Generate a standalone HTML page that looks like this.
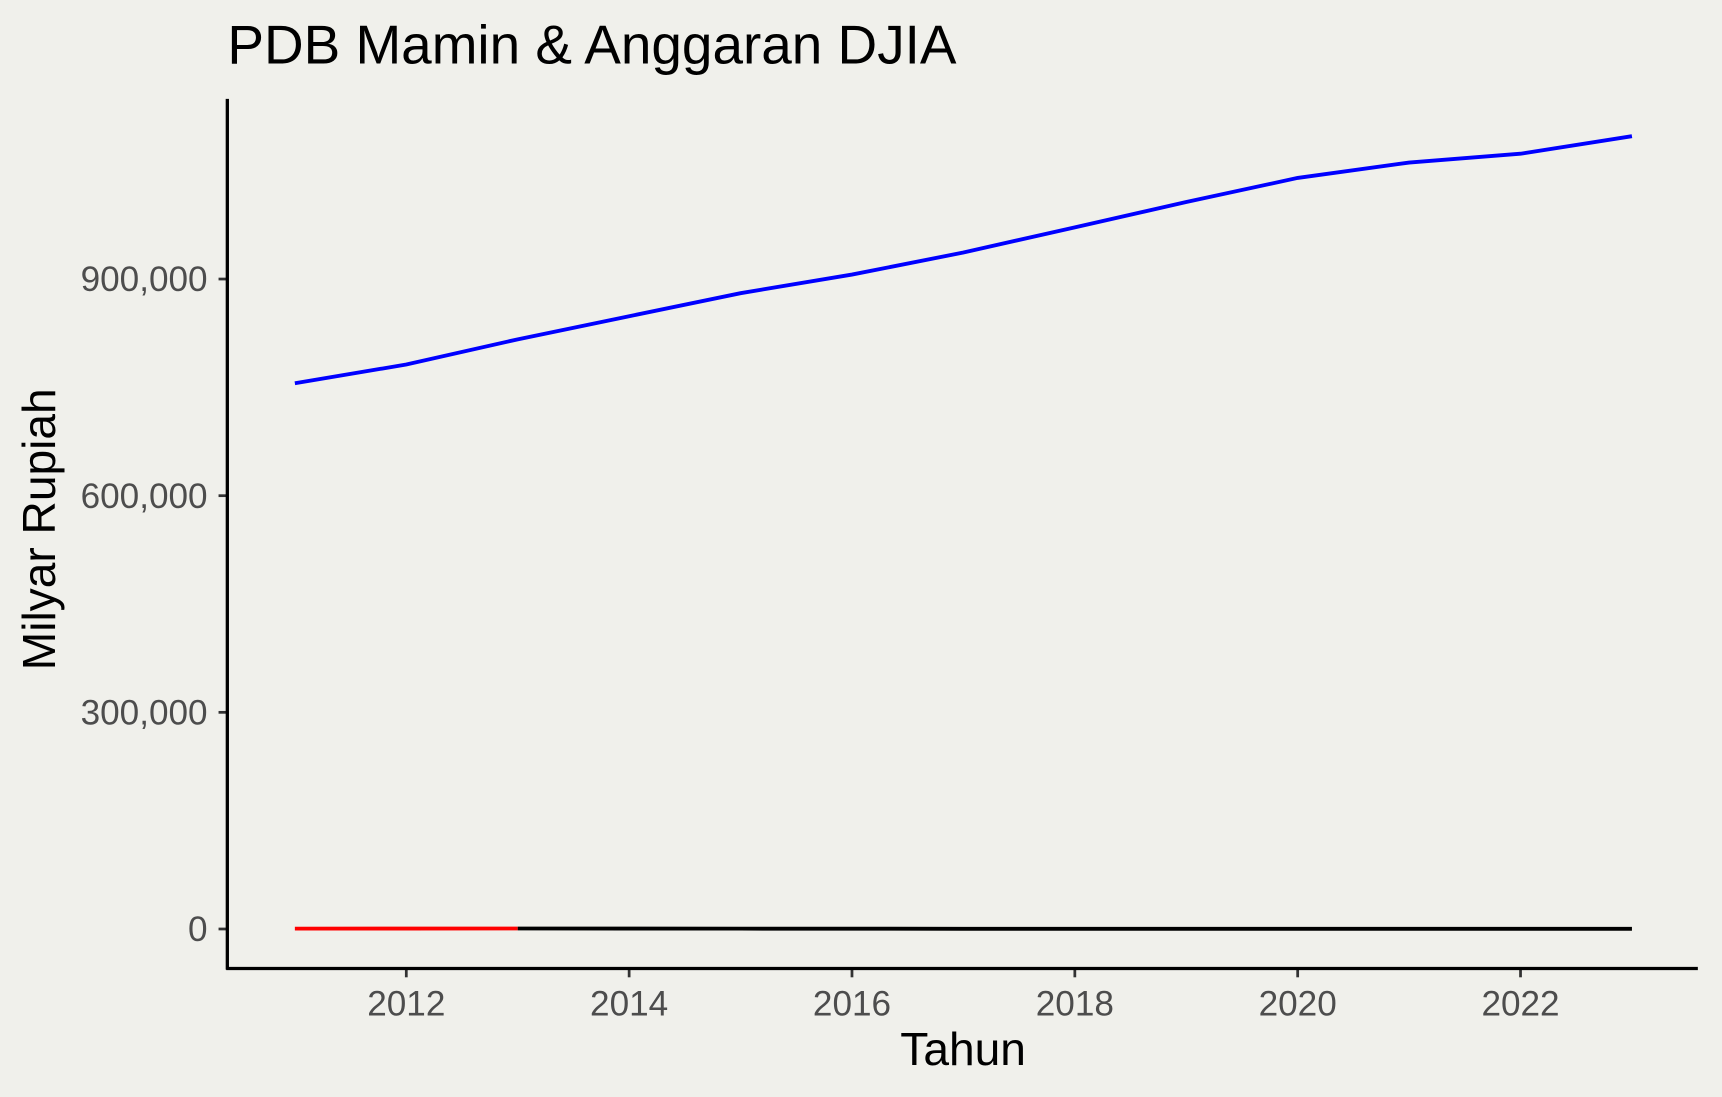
<!DOCTYPE html>
<html><head><meta charset="utf-8"><style>
html,body{margin:0;padding:0;background:#f0f0eb;}
svg{display:block;font-family:"Liberation Sans",Arial,sans-serif;}
</style></head><body>
<svg id="chart" width="1722" height="1097" viewBox="0 0 1568 999" preserveAspectRatio="none">
<rect x="0" y="0" width="1568" height="999" fill="#f0f0eb"/>
<text x="207" y="58" font-size="50" fill="#000">PDB Mamin &amp; Anggaran DJIA</text>
<text transform="translate(50,482) rotate(-90)" text-anchor="middle" font-size="42" fill="#000">Milyar Rupiah</text>
<text x="877" y="970" text-anchor="middle" font-size="42" fill="#000">Tahun</text>
<g id="ticks"></g>
<g id="lines"></g>
<line x1="207" y1="90" x2="207" y2="883" stroke="#000" stroke-width="3"/>
<line x1="206" y1="882" x2="1546" y2="882" stroke="#000" stroke-width="3"/>
</svg>
<script>
const years=[2011,2012,2013,2014,2015,2016,2017,2018,2019,2020,2021,2022,2023];
const pdbMamin=[755700,781600,816500,848500,880400,906200,936700,971600,1006600,1040000,1061300,1073500,1097800];
const redYears=[2011,2012,2013];
const redValues=[500,600,700];
const blackYears=[2013,2014,2015,2016,2017,2018,2019,2020,2021,2022,2023];
const blackValues=[700,600,500,400,300,300,300,300,300,300,300];
const xTicks=[2012,2014,2016,2018,2020,2022];
const yTicks=[0,300000,600000,900000];
const yTickLabels=["0","300,000","600,000","900,000"];

const NS="http://www.w3.org/2000/svg";
function xs(v){return 268.5+(v-2011)*(1486-268.5)/12;}
function ys(v){return 846-v*(197.3/300000);}
const tg=document.getElementById('ticks'), lg=document.getElementById('lines');
function mk(tag,attrs,parent){const e=document.createElementNS(NS,tag);for(const k in attrs)e.setAttribute(k,attrs[k]);parent.appendChild(e);return e;}
xTicks.forEach(t=>{
  const l=mk('line',{x1:xs(t),x2:xs(t),y1:882,y2:890,stroke:'#333','stroke-width':2.5},tg);
  
  
  const tx=mk('text',{x:xs(t),y:925,'text-anchor':'middle','font-size':32,fill:'#4d4d4d'},tg);
  tx.textContent=t;
  
  
});
yTicks.forEach((t,i)=>{
  const l=mk('line',{x1:199,x2:207,y1:ys(t),y2:ys(t),stroke:'#333','stroke-width':2.5},tg);
  
  
  const tx=mk('text',{x:189,y:ys(t)+11,'text-anchor':'end','font-size':32,fill:'#4d4d4d'},tg);
  tx.textContent=yTickLabels[i];
  
  
});
function line(xv,yv,color,name){
  const p=mk('polyline',{points:xv.map((x,i)=>xs(x)+','+ys(yv[i])).join(' '),fill:'none',stroke:color,'stroke-width':3.5},lg);
  
  
}
line(years,pdbMamin,'#0000ff','pdb-mamin-line');
line(redYears,redValues,'#ff0000','anggaran-red-line');
line(blackYears,blackValues,'#000000','anggaran-black-line');
</script>
</body></html>
